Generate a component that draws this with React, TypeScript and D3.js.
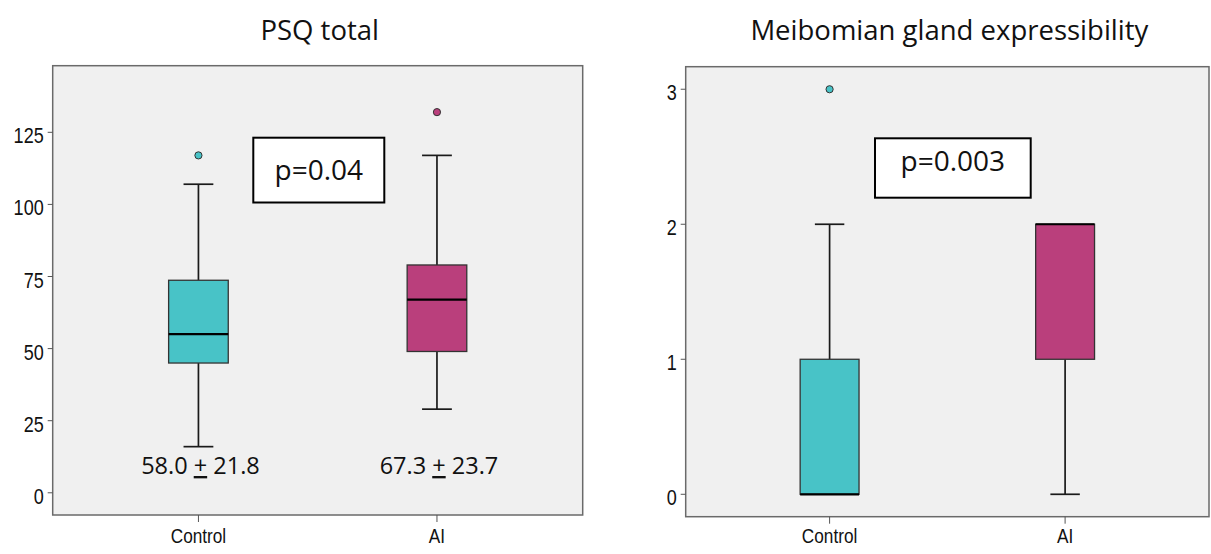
import React from 'react';
import * as d3 from 'd3';

// groups on the x axis
const groups = ['Control', 'AI'];

// PSQ total box plot values
const psqMin = [16, 29];
const psqQ1 = [45, 49];
const psqMedian = [55, 67];
const psqQ3 = [73.7, 79];
const psqMax = [107, 117];
const psqOutliers = [[117], [132]];
const psqTicks = [0, 25, 50, 75, 100, 125];
const psqMeanSd = [['58.0', '21.8'], ['67.3', '23.7']];

// Meibomian gland expressibility box plot values
const mgeMin = [0, 0];
const mgeQ1 = [0, 1];
const mgeMedian = [0, 2];
const mgeQ3 = [1, 2];
const mgeMax = [2, 2];
const mgeOutliers = [[3], []];
const mgeTicks = [0, 1, 2, 3];

const titles = ['PSQ total', 'Meibomian gland expressibility'];
const pValues = ['p=0.04', 'p=0.003'];

const fills = ['#48C3C7', '#BA3F7C'];
const axisFont = '"Liberation Sans", Arial, sans-serif';
const textFont = '"Open Sans", "Noto Sans", sans-serif';
const narrow = 0.82; // SPSS axis text is a narrow sans

type PanelProps = {
  title: string;
  left: number;
  right: number;
  top: number;
  bottom: number;
  domain: [number, number];
  ticks: number[];
  min: number[];
  q1: number[];
  median: number[];
  q3: number[];
  max: number[];
  outliers: number[][];
  pValue: string;
  pBox: { x: number; y: number; w: number; h: number; base: number };
  meanSd?: string[][];
};

const Panel = (p: PanelProps) => {
  const x = d3.scalePoint<string>().domain(groups).range([p.left, p.right]).padding(0.611);
  const y = d3.scaleLinear().domain(p.domain).range([p.bottom, p.top]);
  const boxW = x.step() * 0.25;
  const capW = boxW / 2;

  return (
    <g>
      <text x={(p.left + p.right) / 2 + 2} y={40} textAnchor="middle"
        fontFamily={textFont} fontSize={27.5} fill="#111">{p.title}</text>

      <rect x={p.left} y={p.top} width={p.right - p.left} height={p.bottom - p.top}
        fill="#F0F0F0" stroke="#6a6a6a" strokeWidth={1.5} />

      {/* y axis */}
      {p.ticks.map(t => (
        <g key={t}>
          <line x1={p.left - 5} x2={p.left} y1={y(t)} y2={y(t)} stroke="#555" strokeWidth={1} />
          <text transform={`translate(${p.left - 9},${y(t) + 11}) scale(${narrow},1)`}
            textAnchor="end" fontFamily={axisFont} fontSize={22} fill="#111">{t}</text>
        </g>
      ))}

      {/* x axis */}
      {groups.map(g => (
        <g key={g}>
          <line x1={x(g)} x2={x(g)} y1={p.bottom} y2={p.bottom + 7} stroke="#555" strokeWidth={1} />
          <text transform={`translate(${x(g)},543) scale(${narrow},1)`} textAnchor="middle"
            fontFamily={axisFont} fontSize={21} fill="#111">{g}</text>
        </g>
      ))}

      {/* boxes */}
      {groups.map((g, i) => {
        const cx = x(g) as number;
        return (
          <g key={g}>
            {p.max[i] > p.q3[i] && (
              <g stroke="#1a1a1a" strokeWidth={1.7}>
                <line x1={cx} x2={cx} y1={y(p.q3[i])} y2={y(p.max[i])} />
                <line x1={cx - capW / 2} x2={cx + capW / 2} y1={y(p.max[i])} y2={y(p.max[i])} />
              </g>
            )}
            {p.min[i] < p.q1[i] && (
              <g stroke="#1a1a1a" strokeWidth={1.7}>
                <line x1={cx} x2={cx} y1={y(p.q1[i])} y2={y(p.min[i])} />
                <line x1={cx - capW / 2} x2={cx + capW / 2} y1={y(p.min[i])} y2={y(p.min[i])} />
              </g>
            )}
            <rect x={cx - boxW / 2} y={y(p.q3[i])} width={boxW} height={y(p.q1[i]) - y(p.q3[i])}
              fill={fills[i]} stroke="#333" strokeWidth={1.3} />
            <line x1={cx - boxW / 2} x2={cx + boxW / 2} y1={y(p.median[i])} y2={y(p.median[i])}
              stroke="#000" strokeWidth={2.2} />
            {p.outliers[i].map((o, k) => (
              <circle key={k} cx={cx} cy={y(o)} r={3.6} fill={fills[i]} stroke="#333" strokeWidth={1} />
            ))}
            {p.meanSd && (
              <text x={cx + 2} y={474} textAnchor="middle" fontFamily={textFont} fontSize={23.5} fill="#111">
                {p.meanSd[i][0]} <tspan style={{ textDecoration: 'underline' }}>+</tspan> {p.meanSd[i][1]}
              </text>
            )}
          </g>
        );
      })}

      {/* p value box */}
      <rect x={p.pBox.x} y={p.pBox.y} width={p.pBox.w} height={p.pBox.h}
        fill="#fff" stroke="#000" strokeWidth={2} />
      <text x={p.pBox.x + p.pBox.w / 2} y={p.pBox.base} textAnchor="middle"
        fontFamily={textFont} fontSize={28} fill="#111">{p.pValue}</text>
    </g>
  );
};

export default function App() {
  return (
    <div style={{ position: 'absolute', left: 0, top: 0, background: '#fff' }}>
      <svg width={1211} height={554} style={{ display: 'block' }}>
        <rect width={1211} height={554} fill="#fff" />
        <Panel title={titles[0]} left={52.7} right={582.7} top={65.7} bottom={515}
          domain={[-7.7, 148.1]} ticks={psqTicks}
          min={psqMin} q1={psqQ1} median={psqMedian} q3={psqQ3} max={psqMax} outliers={psqOutliers}
          pValue={pValues[0]} pBox={{ x: 253.3, y: 137.7, w: 131, h: 64.8, base: 179.5 }}
          meanSd={psqMeanSd} />
        <Panel title={titles[1]} left={685.7} right={1209} top={66.7} bottom={516.7}
          domain={[-0.166, 3.167]} ticks={mgeTicks}
          min={mgeMin} q1={mgeQ1} median={mgeMedian} q3={mgeQ3} max={mgeMax} outliers={mgeOutliers}
          pValue={pValues[1]} pBox={{ x: 875, y: 138.3, w: 155.7, h: 59.4, base: 170.8 }} />
      </svg>
    </div>
  );
}
